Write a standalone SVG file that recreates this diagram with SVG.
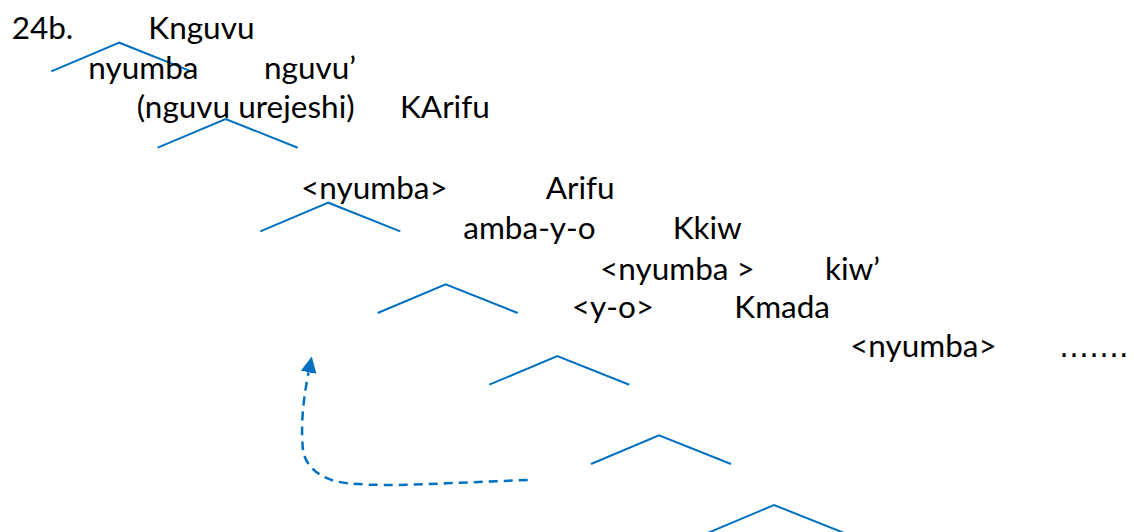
<svg xmlns="http://www.w3.org/2000/svg" width="1134" height="532" viewBox="0 0 1134 532">
<style>
text { font-family: Lato, "Open Sans", "Liberation Sans", sans-serif; font-size: 31.5px; fill: #000; }
text.dots { font-family: "DejaVu Sans", sans-serif; font-size: 30px; }
.br { fill: none; stroke: #0070C0; stroke-width: 2; stroke-linejoin: miter; }
.mv { fill: none; stroke: #0070C0; stroke-width: 2.5; stroke-dasharray: 9 6; }
</style>
<defs>
<marker id="ah" markerUnits="userSpaceOnUse" viewBox="0 0 16 16" refX="0" refY="8" markerWidth="16" markerHeight="16" orient="auto">
<path d="M0,0 L16,8 L0,16 z" fill="#0070C0"/>
</marker>
</defs>
<rect width="1134" height="532" fill="#fff"/>
<g id="connectors">
<polyline class="br" points="51.3,71.4 119.3,42.7 191.3,71.4"/>
<polyline class="br" points="157.7,147.7 225.7,119 297.7,147.7"/>
<polyline class="br" points="260.3,231.4 328.3,202.7 400.3,231.4"/>
<polyline class="br" points="377.7,313 445.7,284.3 517.7,313"/>
<polyline class="br" points="489.3,384.7 557.3,356 629.3,384.7"/>
<polyline class="br" points="591,464 659,435.3 731,464"/>
<polyline class="br" points="706,533.7 774,505 846,533.7"/>
<path class="mv" d="M527.7,480 L446.7,483.3 C400,485.5 360,486 338,481.7 C320,478 305,466 303,450 C301,430 302,405 308.6,372.3" marker-end="url(#ah)"/>
</g>
<g id="n-label"><text x="11.7" y="39.3">24b.</text></g>
<g id="n-knguvu"><text x="148.3" y="39.3">Knguvu</text></g>
<g id="n-nyumba1"><text x="88.3" y="79.3">nyumba</text></g>
<g id="n-nguvu"><text x="264" y="79.3">nguvu’</text></g>
<g id="n-urejeshi"><text x="136.7" y="118.3">(nguvu urejeshi)</text></g>
<g id="n-karifu"><text x="400" y="118.3">KArifu</text></g>
<g id="n-nyumba2"><text x="301" y="199">&lt;nyumba&gt;</text></g>
<g id="n-arifu"><text x="545.7" y="199">Arifu</text></g>
<g id="n-amba"><text x="463.3" y="239">amba-y-o</text></g>
<g id="n-kkiw"><text x="672.7" y="239">Kkiw</text></g>
<g id="n-nyumba3"><text x="600" y="279.5">&lt;nyumba &gt;</text></g>
<g id="n-kiw"><text x="825" y="279.5">kiw’</text></g>
<g id="n-yo"><text x="571.7" y="318">&lt;y-o&gt;</text></g>
<g id="n-kmada"><text x="734.3" y="318">Kmada</text></g>
<g id="n-nyumba4"><text x="850" y="357.3">&lt;nyumba&gt;</text></g>
<g id="n-dots"><text class="dots" x="1059" y="357.3">…….</text></g>
</svg>
